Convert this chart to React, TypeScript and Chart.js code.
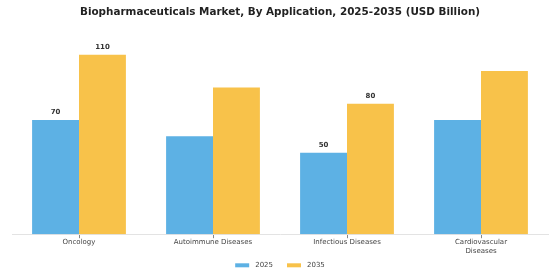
import React, { useEffect, useRef } from "react";
import { Chart, registerables } from "chart.js";

Chart.register(...registerables);

const TITLE = "Biopharmaceuticals Market, By Application, 2025-2035 (USD Billion)";
const categories: (string | string[])[] = [
  "Oncology",
  "Autoimmune Diseases",
  "Infectious Diseases",
  ["Cardiovascular", "Diseases"],
];
const seriesNames = ["2025", "2035"];
const values2025 = [70, 60, 50, 70];
const values2035 = [110, 90, 80, 100];
const labeled2025 = [true, false, true, false];
const labeled2035 = [true, false, true, false];
const yMax = 120;

const FONT = "'DejaVu Sans', sans-serif";

const valueLabelPlugin = {
  id: "valueLabels",
  afterDatasetsDraw(chart: any) {
    const ctx = chart.ctx;
    ctx.save();
    ctx.font = `bold 7px ${FONT}`;
    ctx.fillStyle = "#333";
    ctx.textAlign = "center";
    ctx.textBaseline = "bottom";
    chart.data.datasets.forEach((ds: any, di: number) => {
      const meta = chart.getDatasetMeta(di);
      meta.data.forEach((bar: any, i: number) => {
        if (ds.showLabel && ds.showLabel[i]) {
          ctx.fillText(String(ds.data[i]), bar.x, bar.y - 4);
        }
      });
    });
    ctx.restore();
  },
};

// Legend drawn from the datasets (spacing like the reference)
const legendPlugin = {
  id: "customLegend",
  afterDraw(chart: any) {
    const ctx = chart.ctx;
    const boxW = 14;
    const boxH = 4;
    const textGap = 6;
    const itemGap = 14;
    ctx.save();
    ctx.font = `7px ${FONT}`;
    const items = chart.data.datasets.map((ds: any) => ({
      text: ds.label,
      color: ds.backgroundColor,
      w: boxW + textGap + ctx.measureText(ds.label).width,
    }));
    const total = items.reduce((s: number, it: any) => s + it.w, 0) + itemGap * (items.length - 1);
    let x = chart.width / 2 - total / 2;
    const cy = chart.height - 14.7;
    ctx.textBaseline = "middle";
    ctx.textAlign = "left";
    items.forEach((it: any) => {
      ctx.fillStyle = it.color;
      ctx.fillRect(x, cy - boxH / 2, boxW, boxH);
      ctx.fillStyle = "#444";
      ctx.fillText(it.text, x + boxW + textGap, cy);
      x += it.w + itemGap;
    });
    ctx.restore();
  },
};

export default function App() {
  const ref = useRef<HTMLCanvasElement>(null);
  useEffect(() => {
    if (!ref.current) return;
    const chart = new Chart(ref.current, {
      type: "bar",
      data: {
        labels: categories,
        datasets: [
          {
            label: seriesNames[0],
            data: values2025,
            backgroundColor: "#5DB1E4",
            showLabel: labeled2025,
            categoryPercentage: 0.7,
            barPercentage: 1.0,
          } as any,
          {
            label: seriesNames[1],
            data: values2035,
            backgroundColor: "#F8C24A",
            showLabel: labeled2035,
            categoryPercentage: 0.7,
            barPercentage: 1.0,
          } as any,
        ],
      },
      options: {
        animation: false,
        responsive: true,
        maintainAspectRatio: false,
        layout: { padding: { left: 12, right: 12, top: 0, bottom: 25 } },
        plugins: {
          title: {
            display: true,
            text: TITLE,
            color: "#222",
            font: { family: FONT, size: 10.4, weight: "bold" },
            padding: { top: 6, bottom: 20 },
          },
          legend: { display: false },
          tooltip: { enabled: false },
        },
        scales: {
          x: {
            grid: {
              display: true,
              offset: false,
              drawOnChartArea: false,
              drawTicks: true,
              tickLength: 4,
              color: "#888",
            },
            border: { display: true, color: "#e3e3e3" },
            ticks: {
              color: "#444",
              padding: 0,
              font: { family: FONT, size: 7 },
              maxRotation: 0,
              autoSkip: false,
            },
          },
          y: {
            display: false,
            min: 0,
            max: yMax,
          },
        },
      },
      plugins: [valueLabelPlugin, legendPlugin],
    });
    return () => chart.destroy();
  }, []);
  return (
    <div style={{ position: "absolute", left: 0, top: 0, width: 560, height: 280, background: "#fff" }}>
      <canvas ref={ref} />
    </div>
  );
}
